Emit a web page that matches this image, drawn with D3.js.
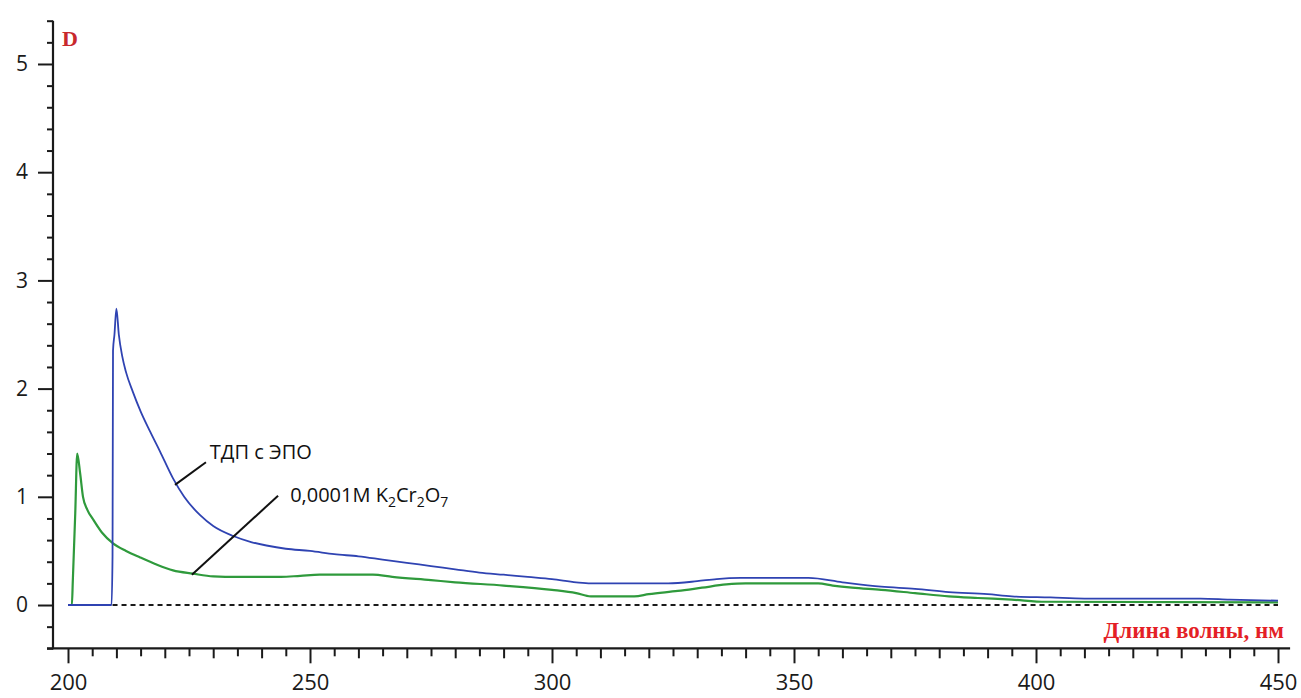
<!DOCTYPE html>
<html>
<head>
<meta charset="utf-8">
<script src="https://cdn.jsdelivr.net/npm/d3@7"></script>
<style>
  html, body { margin: 0; padding: 0; background: #ffffff; }
  svg { display: block; }
  .tick text { font-family: "Open Sans", sans-serif; fill: #1a1a1a; }
</style>
</head>
<body>
<svg id="chart" width="1301" height="698"></svg>
<script>
// ---- data ----
const wavelengthTicks = [200, 250, 300, 350, 400, 450];
const densityTicks = [0, 1, 2, 3, 4, 5];

// Blue: ТДП с ЭПО  [wavelength nm, D]
const tdpWave = [200, 209.0, 209.2, 209.3, 209.6, 210.0, 210.5, 211.2, 212, 213.4, 215, 217, 219, 221.7, 224, 227.3, 230, 234, 238, 241, 245, 250, 255, 260, 265, 270, 275, 280, 285, 290, 295, 300, 305, 308, 315, 324, 330, 334, 339, 353, 360, 368, 375, 382, 390, 395, 403, 410, 434, 440, 450];
const tdpD    = [0,   0,     0.45,  2.35,  2.50,  2.74,  2.50,  2.30,  2.15, 1.97,  1.79, 1.60, 1.42, 1.17, 1.00, 0.83, 0.73, 0.64, 0.58, 0.55, 0.52, 0.50, 0.47, 0.45, 0.42, 0.39, 0.36, 0.33, 0.30, 0.28, 0.26, 0.24, 0.21, 0.20, 0.20, 0.20, 0.22, 0.24, 0.25, 0.25, 0.21, 0.17, 0.15, 0.12, 0.10, 0.08, 0.07, 0.06, 0.06, 0.05, 0.04];

// Green: 0,0001M K2Cr2O7
const kcrWave = [200, 200.8, 201.0, 201.5, 201.9, 202.5, 203.1, 204, 205.2, 207, 209.3, 212, 214.9, 218, 221.7, 225.8, 230, 235, 244, 248, 252, 258, 263, 267, 275, 280, 290, 300, 305, 308, 317, 320, 326, 331, 336, 340, 355, 358, 362, 368, 375, 382, 388, 395, 402, 450];
const kcrD    = [0,   0,     0.23,  0.85,  1.40,  1.22,  1.00,  0.88, 0.79, 0.67, 0.57, 0.50, 0.44, 0.38, 0.32, 0.29, 0.265, 0.26, 0.26, 0.27, 0.28, 0.28, 0.28, 0.26, 0.23, 0.21, 0.18, 0.14, 0.11, 0.08, 0.08, 0.10, 0.13, 0.16, 0.19, 0.20, 0.20, 0.18, 0.16, 0.14, 0.11, 0.08, 0.065, 0.05, 0.03, 0.025];

// annotation anchors in data units
const labelNames = ["ТДП с ЭПО", "0,0001M K2Cr2O7"];
const labelAt    = [[229.3, 1.35], [245.9, 0.95]];
const leaderFrom = [[222.1, 1.11], [225.6, 0.28]];
const leaderTo   = [[228.5, 1.32], [243.4, 1.01]];

// ---- scales ----
const svg = d3.select("#chart");
const x = d3.scaleLinear().domain([200, 450]).range([68, 1278]);
const y = d3.scaleLinear().domain([-0.4, 5.4]).range([648.3, 20.7]);

const axisX = x.range()[0] - 15;  // y-axis position
const axisY = y(-0.4);

// ---- x ticks ----
const xMinor = d3.range(205, 451, 10);
const xMid = d3.range(210, 451, 10).filter(v => v % 50 !== 0);
function xAxisGroup(values, size, labels) {
  const g = svg.append("g").attr("transform", `translate(0,${axisY})`)
    .call(d3.axisBottom(x).tickValues(values).tickSize(size)
      .tickFormat(labels ? d3.format("d") : () => "").tickPadding(11));
  g.select(".domain").remove();
  g.selectAll(".tick line").attr("stroke", "#1a1a1a").attr("stroke-width", 2);
  g.selectAll(".tick text").attr("font-size", 22).attr("dy", "0.71em");
  return g;
}
xAxisGroup(xMinor, 8, false);
xAxisGroup(xMid, 10, false);
xAxisGroup(wavelengthTicks, 15, true);

// ---- y ticks ----
const yMinor = d3.range(-4, 55, 2).filter(v => v % 10 !== 0).map(v => v / 10);
function yAxisGroup(values, size, labels) {
  const g = svg.append("g").attr("transform", `translate(${axisX},0)`)
    .call(d3.axisLeft(y).tickValues(values).tickSize(size)
      .tickFormat(labels ? d3.format("d") : () => "").tickPadding(10));
  g.select(".domain").remove();
  g.selectAll(".tick line").attr("stroke", "#1a1a1a").attr("stroke-width", 2);
  g.selectAll(".tick text").attr("font-size", 21);
  return g;
}
yAxisGroup(yMinor, 6, false);
yAxisGroup(densityTicks, 15, true);

// axis lines
svg.append("line").attr("x1", axisX).attr("x2", axisX)
  .attr("y1", y(5.4)).attr("y2", axisY + 1)
  .attr("stroke", "#1a1a1a").attr("stroke-width", 2.2);
svg.append("line").attr("x1", axisX - 6).attr("x2", x(452.5))
  .attr("y1", axisY).attr("y2", axisY)
  .attr("stroke", "#1a1a1a").attr("stroke-width", 2.2);

// zero dashed baseline
svg.append("line").attr("x1", x(209.2)).attr("x2", x(450))
  .attr("y1", y(0)).attr("y2", y(0))
  .attr("stroke", "#1a1a1a").attr("stroke-width", 2)
  .attr("stroke-dasharray", "5,4");

// ---- curves ----
const line = d3.line().x(d => x(d[0])).y(d => y(d[1])).curve(d3.curveMonotoneX);
const kcr = kcrWave.map((w, i) => [w, kcrD[i]]);
const tdp = tdpWave.map((w, i) => [w, tdpD[i]]);
svg.append("path").datum(kcr).attr("d", line)
  .attr("fill", "none").attr("stroke", "#2f9a3c").attr("stroke-width", 2.2)
  .attr("stroke-linejoin", "round");
svg.append("path").datum(tdp).attr("d", line)
  .attr("fill", "none").attr("stroke", "#2f43b2").attr("stroke-width", 1.8)
  .attr("stroke-linejoin", "round");

// ---- annotations ----
for (let i = 0; i < labelNames.length; i++) {
  svg.append("line")
    .attr("x1", x(leaderFrom[i][0])).attr("y1", y(leaderFrom[i][1]))
    .attr("x2", x(leaderTo[i][0])).attr("y2", y(leaderTo[i][1]))
    .attr("stroke", "#111").attr("stroke-width", 2);
}
svg.append("text").attr("x", x(labelAt[0][0])).attr("y", y(labelAt[0][1]))
  .attr("font-family", "Open Sans, sans-serif").attr("font-size", 20)
  .attr("fill", "#111").text(labelNames[0]);
const t2 = svg.append("text").attr("x", x(labelAt[1][0])).attr("y", y(labelAt[1][1]))
  .attr("font-family", "Open Sans, sans-serif").attr("font-size", 20).attr("fill", "#111");
t2.append("tspan").text("0,0001M K");
t2.append("tspan").attr("font-size", 14).attr("dy", 5).text("2");
t2.append("tspan").attr("dy", -5).text("Cr");
t2.append("tspan").attr("font-size", 14).attr("dy", 5).text("2");
t2.append("tspan").attr("dy", -5).text("O");
t2.append("tspan").attr("font-size", 14).attr("dy", 5).text("7");

// axis titles
svg.append("text").attr("x", axisX + 9).attr("y", y(5.4) + 25)
  .attr("font-family", "Liberation Serif, serif").attr("font-size", 22)
  .attr("font-weight", "bold")
  .attr("fill", "#c8282d").text("D");
svg.append("text").attr("x", x(450) + 6).attr("y", axisY - 10)
  .attr("text-anchor", "end")
  .attr("font-family", "Liberation Serif, serif").attr("font-size", 23)
  .attr("font-weight", "bold")
  .attr("fill", "#e41f26").text("Длина волны, нм");
</script>
</body>
</html>
